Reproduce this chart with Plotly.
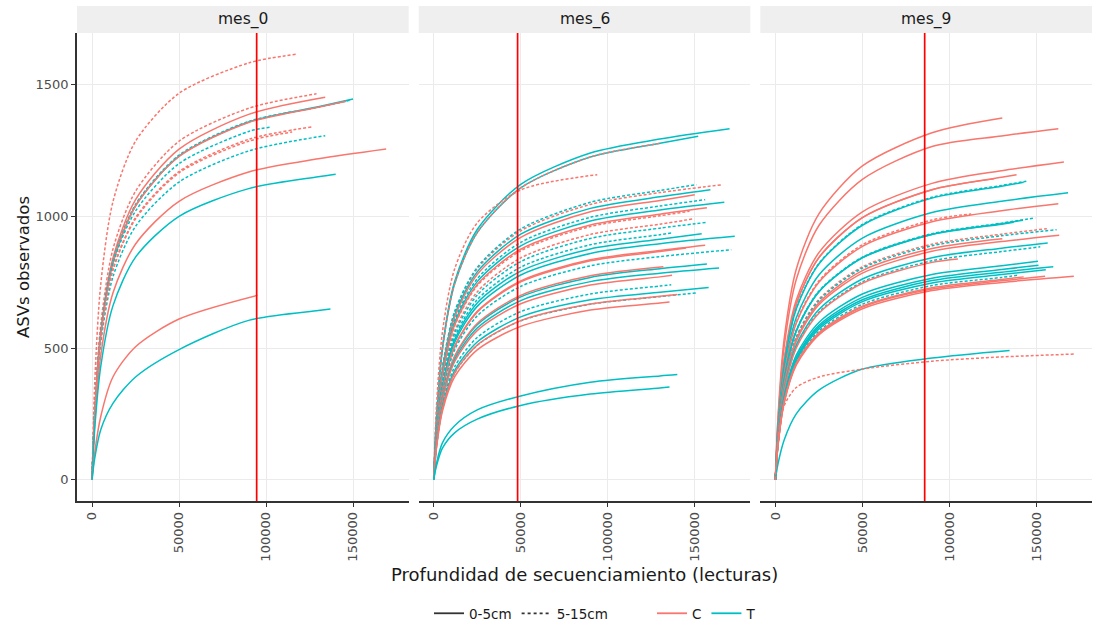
import plotly.graph_objects as go
from plotly.subplots import make_subplots

# ---------------- data ----------------
DEPTH_GRID = [0, 1500, 5000, 12000, 25000, 50000, 90000, 130000]
PANELS = ["mes_0", "mes_6", "mes_9"]
VLINE_DEPTH = [94600, 48200, 85800]
COLORS = {"C": "#F8766D", "T": "#00BFC4"}
DASHES = {"0-5cm": "solid", "5-15cm": "3px,2px"}

# mes_0
m0_trat = ["C", "C", "C", "T", "T", "C", "T", "C", "T", "C", "C", "T", "C", "T"]
m0_prof = ["5-15cm", "5-15cm", "0-5cm", "0-5cm", "5-15cm", "0-5cm", "5-15cm", "5-15cm",
           "5-15cm", "5-15cm", "0-5cm", "0-5cm", "0-5cm", "0-5cm"]
m0_end = [117000, 129000, 134000, 150000, 148000, 146000, 102000, 127000,
          134000, 115000, 169000, 140000, 95000, 137000]
m0_asv = [
    [0, 363, 742, 1055, 1285, 1467, 1582, 1615],
    [0, 270, 590, 875, 1095, 1285, 1410, 1465],
    [0, 251, 561, 841, 1063, 1255, 1387, 1452],
    [0, 246, 549, 824, 1040, 1228, 1358, 1416, 1445],
    [0, 250, 555, 830, 1045, 1232, 1360, 1414, 1440],
    [0, 245, 548, 823, 1039, 1227, 1356, 1414, 1437],
    [0, 260, 560, 820, 1020, 1200, 1322, 1338],
    [0, 255, 545, 800, 995, 1170, 1292, 1340],
    [0, 240, 520, 770, 962, 1130, 1248, 1306],
    [0, 255, 540, 795, 990, 1165, 1285, 1320],
    [0, 211, 472, 709, 895, 1057, 1168, 1218, 1255],
    [0, 190, 430, 660, 845, 1000, 1105, 1150, 1160],
    [0, 100, 240, 390, 505, 610, 700],
    [0, 80, 190, 290, 390, 494, 605, 642, 648],
]

# mes_6
m6_trat = ["T", "T", "C", "C", "C", "T", "T", "C", "T", "T", "C", "C", "C", "T", "T", "T",
           "T", "C", "C", "T", "T", "C", "T", "C", "T", "T", "T", "C", "C", "T", "T"]
m6_prof = ["0-5cm", "0-5cm", "5-15cm", "5-15cm", "5-15cm", "5-15cm", "0-5cm", "0-5cm",
           "5-15cm", "0-5cm", "0-5cm", "5-15cm", "5-15cm", "5-15cm", "5-15cm", "0-5cm",
           "0-5cm", "0-5cm", "0-5cm", "5-15cm", "0-5cm", "0-5cm", "0-5cm", "0-5cm",
           "5-15cm", "0-5cm", "5-15cm", "0-5cm", "0-5cm", "0-5cm", "0-5cm"]
m6_end = [170000, 152000, 131000, 94000, 166000, 151000, 159000, 150000, 156000, 167000,
          157000, 147000, 149000, 157000, 137000, 154000, 173000, 156000, 145000, 171000,
          157000, 132000, 164000, 137000, 136500, 158000, 151000, 140000, 135500, 140000,
          135500]
m6_asv = [
    [0, 224, 501, 752, 950, 1121, 1240, 1293, 1332],
    [0, 222, 495, 743, 938, 1108, 1225, 1277, 1304],
    [0, 222, 495, 743, 938, 1108, 1225, 1278],
    [0, 270, 560, 800, 975, 1100, 1158],
    [0, 189, 423, 634, 801, 945, 1045, 1090, 1120],
    [0, 190, 426, 638, 806, 952, 1053, 1098, 1120],
    [0, 186, 416, 625, 789, 932, 1030, 1074, 1101],
    [0, 184, 411, 617, 779, 920, 1017, 1060, 1082],
    [0, 180, 403, 604, 763, 901, 996, 1039, 1063],
    [0, 178, 397, 596, 752, 888, 982, 1024, 1053],
    [0, 175, 391, 587, 741, 875, 967, 1008, 1032],
    [0, 174, 388, 583, 736, 869, 961, 1002, 1019],
    [0, 168, 376, 564, 713, 842, 931, 970, 990],
    [0, 166, 370, 555, 701, 828, 916, 955, 977],
    [0, 161, 361, 541, 683, 807, 892, 930, 937],
    [0, 158, 354, 531, 671, 792, 876, 913, 934],
    [0, 155, 347, 521, 658, 777, 859, 896, 924],
    [0, 151, 337, 506, 639, 755, 835, 870, 890],
    [0, 150, 336, 504, 636, 751, 831, 866, 880],
    [0, 147, 328, 492, 622, 734, 812, 847, 873],
    [0, 139, 310, 466, 588, 694, 768, 801, 819],
    [0, 140, 313, 469, 593, 700, 774, 808],
    [0, 136, 304, 456, 576, 680, 752, 784, 804],
    [0, 134, 299, 448, 566, 668, 739, 770, 776],
    [0, 128, 285, 428, 540, 638, 705, 735, 740],
    [0, 124, 276, 414, 523, 618, 683, 712, 730],
    [0, 121, 269, 404, 510, 603, 666, 695, 709],
    [0, 121, 270, 405, 511, 604, 667, 696, 703],
    [0, 116, 260, 390, 493, 582, 644, 671, 675],
    [0, 60, 140, 205, 265, 318, 370, 394, 399],
    [0, 50, 120, 178, 230, 282, 325, 348, 352],
]

# mes_9
m9_trat = ["C", "C", "C", "C", "C", "T", "T", "T", "C", "C", "T", "T", "T", "C", "T",
           "C", "C", "T", "T", "C", "T", "T", "T", "T", "T", "C", "C", "C", "T", "C"]
m9_prof = ["0-5cm", "0-5cm", "0-5cm", "0-5cm", "0-5cm", "5-15cm", "0-5cm", "0-5cm",
           "0-5cm", "5-15cm", "5-15cm", "0-5cm", "0-5cm", "5-15cm", "5-15cm", "0-5cm",
           "0-5cm", "0-5cm", "5-15cm", "0-5cm", "0-5cm", "0-5cm", "0-5cm", "0-5cm",
           "5-15cm", "0-5cm", "0-5cm", "0-5cm", "0-5cm", "5-15cm"]
m9_end = [130400, 162600, 165800, 138600, 125700, 144200, 142700, 168200, 162600, 112500,
          149300, 142300, 137000, 156000, 161600, 163100, 130400, 156500, 152200, 104900,
          150900, 151200, 159700, 155400, 138900, 155000, 171500, 142700, 134600, 171500]
m9_asv = [
    [0, 238, 532, 799, 1009, 1191, 1317, 1373],
    [0, 225, 503, 760, 965, 1140, 1265, 1305, 1332],
    [0, 203, 455, 682, 862, 1017, 1125, 1173, 1206],
    [0, 199, 445, 667, 843, 995, 1101, 1148, 1158],
    [0, 199, 445, 667, 843, 995, 1101, 1142],
    [0, 194, 433, 650, 821, 969, 1072, 1117, 1133],
    [0, 193, 432, 648, 819, 966, 1069, 1114, 1129],
    [0, 183, 410, 615, 777, 917, 1014, 1057, 1089],
    [0, 177, 396, 594, 750, 886, 979, 1021, 1048],
    [0, 178, 399, 598, 755, 892, 986, 1009],
    [0, 169, 378, 567, 716, 845, 934, 974, 994],
    [0, 169, 377, 565, 714, 843, 932, 972, 985],
    [0, 168, 376, 564, 713, 842, 931, 970, 977],
    [0, 162, 361, 542, 685, 808, 894, 932, 953],
    [0, 161, 359, 539, 680, 803, 888, 926, 949],
    [0, 157, 350, 526, 664, 784, 867, 904, 928],
    [0, 159, 355, 532, 672, 794, 878, 915],
    [0, 152, 341, 511, 646, 762, 843, 879, 899],
    [0, 150, 336, 504, 636, 751, 831, 866, 884],
    [0, 149, 334, 500, 632, 746, 825, 838],
    [0, 141, 315, 473, 597, 705, 779, 812, 829],
    [0, 138, 309, 464, 586, 692, 765, 798, 814],
    [0, 137, 306, 458, 579, 683, 756, 788, 808],
    [0, 135, 302, 453, 572, 676, 747, 779, 797],
    [0, 133, 298, 447, 564, 666, 737, 768, 776],
    [0, 131, 293, 439, 554, 655, 724, 755, 772],
    [0, 130, 290, 435, 550, 649, 718, 749, 772],
    [0, 132, 295, 442, 558, 659, 729, 760, 770],
    [0, 60, 150, 250, 340, 420, 462, 491],
    [0, 150, 280, 350, 390, 420, 450, 466, 477],
]

X_TICKS = [0, 50000, 100000, 150000]
X_TICKTEXT = ["0", "50000", "100000", "150000"]
Y_TICKS = [0, 500, 1000, 1500]
Y_TICKTEXT = ["0", "500", "1000", "1500"]

# ---------------- figure ----------------
W, H = 1093, 630
ML, MR, MT, MB = 77, 1, 33, 129
PW = W - ML - MR
PH = H - MT - MB
GAP = 10 / PW
panel_w = (1 - 2 * GAP) / 3
domains = [[i * (panel_w + GAP), i * (panel_w + GAP) + panel_w] for i in range(3)]
domains[2][1] = 1.0

fig = make_subplots(rows=1, cols=3, shared_yaxes=True, horizontal_spacing=GAP)

panel_data = [(m0_trat, m0_prof, m0_end, m0_asv),
              (m6_trat, m6_prof, m6_end, m6_asv),
              (m9_trat, m9_prof, m9_end, m9_asv)]

for col, (trat, prof, ends, asvs) in enumerate(panel_data, start=1):
    for t, p, e, ys in zip(trat, prof, ends, asvs):
        xs = DEPTH_GRID[:len(ys) - 1] + [e]
        fig.add_trace(go.Scatter(
            x=xs, y=ys, mode="lines", showlegend=False, hoverinfo="skip",
            line=dict(color=COLORS[t], width=1.5, dash=DASHES[p], shape="spline", smoothing=0.8),
        ), row=1, col=col)

# legend entries
fig.add_trace(go.Scatter(x=[None], y=[None], mode="lines", name="0-5cm",
                         line=dict(color="#333333", width=1.8, dash="solid"), legend="legend"))
fig.add_trace(go.Scatter(x=[None], y=[None], mode="lines", name="5-15cm",
                         line=dict(color="#333333", width=1.8, dash="dot"), legend="legend"))
fig.add_trace(go.Scatter(x=[None], y=[None], mode="lines", name="C",
                         line=dict(color=COLORS["C"], width=1.8), legend="legend2"))
fig.add_trace(go.Scatter(x=[None], y=[None], mode="lines", name="T",
                         line=dict(color=COLORS["T"], width=1.8), legend="legend2"))

tickfont = dict(family="DejaVu Sans", size=13, color="#4D4D4D")
for i in range(3):
    xa = "xaxis" if i == 0 else f"xaxis{i + 1}"
    ya = "yaxis" if i == 0 else f"yaxis{i + 1}"
    fig.layout[xa].update(
        domain=domains[i], range=[-8650, 181950],
        tickvals=X_TICKS, ticktext=X_TICKTEXT, tickangle=-90,
        showgrid=True, gridcolor="#EBEBEB", gridwidth=1, zeroline=False,
        showline=True, linecolor="#333333", linewidth=1.6,
        ticks="outside", ticklen=4, tickcolor="#333333", tickwidth=1,
        tickfont=tickfont,
    )
    fig.layout[ya].update(
        range=[-80.75, 1695.75], tickvals=Y_TICKS, ticktext=Y_TICKTEXT,
        showgrid=True, gridcolor="#EBEBEB", gridwidth=1, zeroline=False,
        showline=(i == 0), linecolor="#333333", linewidth=1.6,
        ticks="outside" if i == 0 else "", ticklen=4, tickcolor="#333333",
        showticklabels=(i == 0), tickfont=tickfont,
    )
    # vertical red line
    fig.add_shape(type="line", xref=("x" if i == 0 else f"x{i + 1}"), yref="paper",
                  x0=VLINE_DEPTH[i], x1=VLINE_DEPTH[i], y0=0, y1=1,
                  line=dict(color="#FF0000", width=1.7), layer="above")
    # strip
    fig.add_shape(type="rect", xref="paper", yref="paper",
                  x0=domains[i][0], x1=domains[i][1], y0=1, y1=1 + 27 / PH,
                  fillcolor="#EFEFEF", line=dict(width=0), layer="below")
    fig.add_annotation(text=PANELS[i], xref="paper", yref="paper",
                       x=(domains[i][0] + domains[i][1]) / 2, y=1 + 13.5 / PH,
                       showarrow=False, xanchor="center", yanchor="middle",
                       font=dict(family="DejaVu Sans", size=15.5, color="#1A1A1A"))

fig.add_annotation(text="Profundidad de secuenciamiento (lecturas)", xref="paper", yref="paper",
                   x=0.5, y=(501 - 574) / PH, showarrow=False, xanchor="center", yanchor="middle",
                   font=dict(family="DejaVu Sans", size=18, color="#1A1A1A"))
fig.add_annotation(text="ASVs observados", xref="paper", yref="paper",
                   x=(23 - ML) / PW, y=0.5, textangle=-90, showarrow=False,
                   xanchor="center", yanchor="middle",
                   font=dict(family="DejaVu Sans", size=16.5, color="#1A1A1A"))

legfont = dict(family="DejaVu Sans", size=13.5, color="#1A1A1A")
LEG_Y = (501 - 629) / PH
fig.update_layout(
    width=W, height=H,
    margin=dict(l=ML, r=MR, t=MT, b=MB),
    paper_bgcolor="white", plot_bgcolor="white",
    legend=dict(orientation="h", x=(521 - ML) / PW, y=LEG_Y,
                xanchor="center", yanchor="bottom", font=legfont, bgcolor="rgba(0,0,0,0)",
                itemwidth=30),
    legend2=dict(orientation="h", x=(707 - ML) / PW, y=LEG_Y,
                 xanchor="center", yanchor="bottom", font=legfont, bgcolor="rgba(0,0,0,0)",
                 itemwidth=30),
)

fig.write_html("out.html", config={"displayModeBar": False},
               post_script="document.body.style.margin='0';document.body.style.overflow='hidden';")
